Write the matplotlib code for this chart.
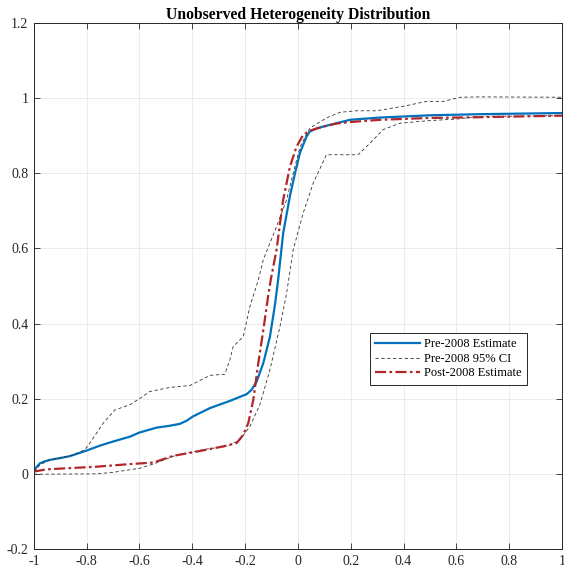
import matplotlib
matplotlib.use('Agg')
import matplotlib.pyplot as plt
import numpy as np

plt.rcParams['font.family'] = ['Liberation Serif', 'DejaVu Serif']

# Pre-2008 estimate
pre_x = [-1.0, -0.99, -0.977, -0.96, -0.94, -0.90, -0.864, -0.80, -0.75, -0.70, -0.636, -0.60,
         -0.535, -0.485, -0.447, -0.42, -0.397, -0.333, -0.258, -0.194, -0.175, -0.156,
         -0.131, -0.106, -0.087, -0.075, -0.056, -0.030, -0.011, 0.008, 0.033, 0.045,
         0.07, 0.096, 0.146, 0.197, 0.311, 0.5, 0.69, 1.0]
pre_y = [0.006, 0.018, 0.028, 0.033, 0.037, 0.042, 0.047, 0.062, 0.075, 0.086, 0.099, 0.110,
         0.123, 0.128, 0.133, 0.142, 0.153, 0.175, 0.194, 0.212, 0.224, 0.246,
         0.295, 0.365, 0.450, 0.516, 0.640, 0.740, 0.800, 0.855, 0.898, 0.911,
         0.919, 0.924, 0.933, 0.942, 0.948, 0.954, 0.957, 0.960]

# Pre-2008 95% CI, upper band
ciu_x = [-1.0, -0.977, -0.94, -0.851, -0.807, -0.788, -0.737, -0.693, -0.636, -0.598, -0.561,
         -0.485, -0.409, -0.333, -0.277, -0.258, -0.245, -0.207, -0.182, -0.150, -0.131,
         -0.081, -0.043, -0.018, 0.008, 0.045, 0.108, 0.159, 0.222, 0.298, 0.399, 0.487,
         0.551, 0.614, 0.69, 1.0]
ciu_y = [0.005, 0.024, 0.037, 0.050, 0.064, 0.082, 0.135, 0.170, 0.184, 0.201, 0.219,
         0.230, 0.235, 0.262, 0.265, 0.303, 0.339, 0.365, 0.445, 0.516, 0.570,
         0.658, 0.729, 0.800, 0.870, 0.920, 0.947, 0.962, 0.966, 0.966, 0.978, 0.991,
         0.991, 1.002, 1.003, 1.002]

# Pre-2008 95% CI, lower band
cil_x = [-1.0, -0.763, -0.70, -0.598, -0.548, -0.46, -0.346, -0.27, -0.22, -0.182, -0.144,
         -0.106, -0.068, -0.043, -0.018, 0.02, 0.058, 0.108, 0.228, 0.273, 0.323, 0.386,
         0.5, 0.601, 0.69, 1.0]
cil_y = [-0.001, 0.0, 0.004, 0.015, 0.026, 0.050, 0.066, 0.073, 0.090, 0.126, 0.184,
         0.277, 0.392, 0.480, 0.596, 0.694, 0.774, 0.849, 0.849, 0.880, 0.916, 0.933,
         0.940, 0.944, 0.951, 0.953]

# Post-2008 estimate
post_x = [-1.0, -0.952, -0.763, -0.636, -0.548, -0.472, -0.384, -0.283, -0.232, -0.207, -0.188,
          -0.169, -0.150, -0.131, -0.113, -0.103, -0.081, -0.056, -0.030, -0.005, 0.020,
          0.045, 0.096, 0.146, 0.197, 0.311, 0.5, 0.69, 1.0]
post_y = [0.006, 0.012, 0.019, 0.026, 0.030, 0.048, 0.059, 0.073, 0.082, 0.104, 0.135,
          0.197, 0.295, 0.383, 0.472, 0.516, 0.596, 0.729, 0.818, 0.871, 0.902,
          0.913, 0.924, 0.932, 0.936, 0.942, 0.947, 0.949, 0.953]

fig = plt.figure(figsize=(5.64, 5.71), dpi=100)
ax = fig.add_axes([0.060, 0.0385, 0.9365, 0.9215])

ax.plot(pre_x, pre_y, color='#0072BD', lw=1.6, label='Pre-2008 Estimate')
ax.plot(ciu_x, ciu_y, color='#333333', lw=0.6, ls=(0, (4, 3)), label='Pre-2008 95% CI')
ax.plot(cil_x, cil_y, color='#333333', lw=0.6, ls=(0, (4, 3)))
ax.plot(post_x, post_y, color='#B0262A', lw=1.6, ls=(0, (5, 1.5, 1.2, 1.5)), label='Post-2008 Estimate')

ax.set_xlim(-1, 1)
ax.set_ylim(-0.2, 1.2)
ax.set_xticks(np.arange(-1, 1.01, 0.2))
ax.set_yticks(np.arange(-0.2, 1.21, 0.2))
ax.set_xticklabels(['-1', '-0.8', '-0.6', '-0.4', '-0.2', '0', '0.2', '0.4', '0.6', '0.8', '1'])
ax.set_yticklabels(['-0.2', '0', '0.2', '0.4', '0.6', '0.8', '1', '1.2'])
ax.tick_params(direction='in', top=True, right=True, length=4, width=0.6,
               labelsize=10, colors='#262626', pad=4)
ax.grid(True, color='#dddddd', lw=0.5, alpha=0.8)
for s in ax.spines.values():
    s.set_color('#262626')
    s.set_linewidth(0.7)

ax.set_title('Unobserved Heterogeneity Distribution', fontsize=11.3, fontweight='bold', pad=3)

leg = ax.legend(loc='upper left', bbox_to_anchor=(0.636, 0.411), fontsize=9,
                fancybox=False, edgecolor='#262626', framealpha=1, handlelength=3.6,
                handletextpad=0.3, labelspacing=0.2, borderpad=0.45, borderaxespad=0)
leg.get_frame().set_linewidth(0.7)

fig.savefig('out.png', dpi=100)
